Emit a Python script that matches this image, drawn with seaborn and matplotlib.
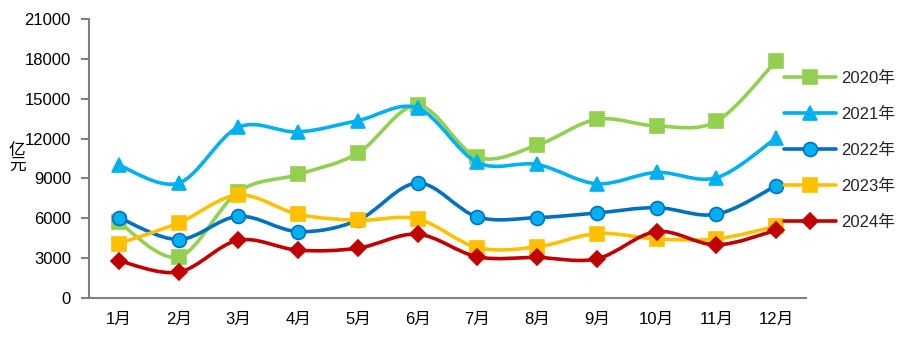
import numpy as np
import pandas as pd
import matplotlib
matplotlib.use("Agg")
import matplotlib.pyplot as plt
from matplotlib.path import Path
from matplotlib.patches import PathPatch
from matplotlib.lines import Line2D
import seaborn as sns

months = ["1月", "2月", "3月", "4月", "5月", "6月", "7月", "8月", "9月", "10月", "11月", "12月"]
years = ["2020年", "2021年", "2022年", "2023年", "2024年"]
v2020 = [5700, 3100, 8000, 9300, 10900, 14500, 10600, 11500, 13450, 12950, 13300, 17850]
v2021 = [10000, 8650, 12850, 12500, 13350, 14300, 10200, 10050, 8600, 9450, 9050, 12050]
v2022 = [6050, 4400, 6150, 5000, 5850, 8650, 6100, 6050, 6400, 6800, 6300, 8450]
v2023 = [4100, 5650, 7750, 6300, 5850, 5950, 3800, 3850, 4850, 4450, 4450, 5400]
v2024 = [2800, 1950, 4350, 3600, 3750, 4800, 3100, 3050, 2950, 5000, 4000, 5100]
yticks = [0, 3000, 6000, 9000, 12000, 15000, 18000, 21000]

series = [v2020, v2021, v2022, v2023, v2024]
colors = ["#92D050", "#00B0F0", "#0070C0", "#FFC000", "#C00000"]
markers = ["s", "^", "o", "s", "D"]
msizes = [10, 10, 10, 10, 8]
mfaces = ["#92D050", "#00B0F0", "#00B0F0", "#FFC000", "#C00000"]
medges = ["#92D050", "#00B0F0", "#0070C0", "#FFC000", "#C00000"]

sns.set_theme(style="white")
plt.rcParams["font.family"] = ["Liberation Sans", "Noto Sans CJK SC", "DejaVu Sans"]

fig = plt.figure(figsize=(9.13, 3.45), dpi=100)
ax = fig.add_axes([89 / 913, 47 / 345, (806 - 89) / 913, (298 - 19) / 345])

x = np.arange(len(months))


def smooth_path(xs, ys):
    pts = np.column_stack([xs, ys]).astype(float)
    n = len(pts)
    verts = [pts[0]]
    codes = [Path.MOVETO]
    for i in range(n - 1):
        p0 = pts[i - 1] if i > 0 else pts[i]
        p1 = pts[i]
        p2 = pts[i + 1]
        p3 = pts[i + 2] if i + 2 < n else pts[i + 1]
        c1 = p1 + (p2 - p0) / 6.0
        c2 = p2 - (p3 - p1) / 6.0
        verts += [c1, c2, p2]
        codes += [Path.CURVE4] * 3
    return Path(verts, codes)


handles = []
for k, (vals, col) in enumerate(zip(series, colors)):
    z = 2 + k * 2
    patch = PathPatch(smooth_path(x, vals), facecolor="none", edgecolor=col,
                      lw=2.6, zorder=z, capstyle="round", joinstyle="round")
    ax.add_patch(patch)
    df = pd.DataFrame({"m": x, "v": vals})
    sns.lineplot(data=df, x="m", y="v", ax=ax, color=col, lw=0, marker=markers[k],
                 markersize=msizes[k], markerfacecolor=mfaces[k],
                 markeredgecolor=medges[k], markeredgewidth=1.2, zorder=z + 1)
    handles.append(Line2D([0], [0], color=col, lw=2.6, marker=markers[k],
                          markersize=msizes[k], markerfacecolor=mfaces[k],
                          markeredgecolor=medges[k], markeredgewidth=1.2))

ax.set_xlim(-0.5, len(months) - 0.5)
ax.set_ylim(0, 21000)
ax.set_yticks(yticks)
ax.set_yticklabels([str(t) for t in yticks], fontsize=12, color="black")
ax.set_xticks(np.arange(-0.5, len(months), 1.0))
ax.set_xticklabels([])
ax.set_xticks(x, minor=True)
ax.set_xticklabels(months, minor=True, fontsize=12, color="black")
ax.tick_params(axis="x", which="major", direction="out", length=6, width=1.5, color="#808080")
ax.tick_params(axis="x", which="minor", length=0, pad=10)
ax.tick_params(axis="y", direction="out", length=6, width=1.5, color="#808080", pad=7, left=True)
ax.set_xlabel("")
ax.set_ylabel("")
for s in ["top", "right"]:
    ax.spines[s].set_visible(False)
for s in ["left", "bottom"]:
    ax.spines[s].set_color("#808080")
    ax.spines[s].set_linewidth(1.5)
ax.grid(False)

fig.text(17 / 913, 1 - 158 / 345, "亿\n元", fontsize=12, ha="center", va="center",
         linespacing=0.95, color="black")

leg = fig.legend(handles, years, loc="upper left", bbox_to_anchor=(784 / 913, 1 - 71 / 345),
                 frameon=False, fontsize=12, handlelength=3.1, handletextpad=0.3,
                 labelspacing=1.25, borderaxespad=0, borderpad=0)

fig.savefig("out.png", dpi=100)
